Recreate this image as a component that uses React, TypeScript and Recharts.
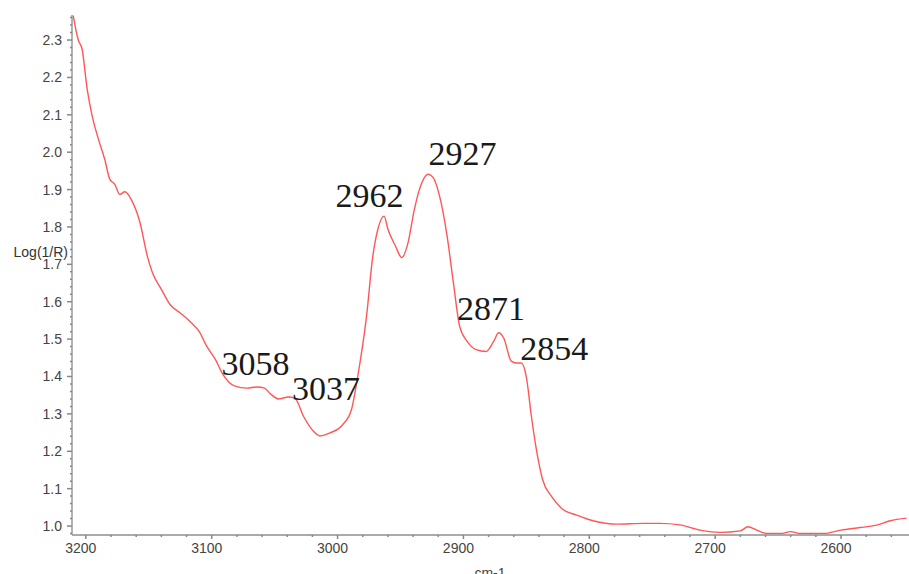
import { LineChart, Line, XAxis, YAxis, ReferenceDot } from "recharts";

// spectrum, wavenumber (cm-1) descending
const WAVENUMBERS = [
  3210, 3206, 3203, 3199, 3195, 3190, 3185, 3181, 3177, 3173, 3169, 3164, 3157, 3151, 3147, 3140,
  3133, 3125, 3116, 3110, 3104, 3097, 3091, 3082, 3072, 3064, 3058, 3054, 3047, 3039, 3034, 3027,
  3019, 3014, 3006, 2996, 2989, 2984, 2977, 2972, 2968, 2963, 2960, 2954, 2949, 2944, 2939, 2933,
  2928, 2924, 2919, 2913, 2908, 2903, 2897, 2890, 2882, 2876, 2872, 2868, 2862, 2858, 2854, 2850,
  2846, 2842, 2837, 2830, 2822, 2810, 2797, 2778, 2757, 2744, 2728, 2712, 2696, 2680, 2674, 2667,
  2659, 2648, 2640, 2632, 2614, 2600, 2585, 2571, 2561, 2548,
];

const LOG_1_R = [
  2.365, 2.3, 2.276, 2.17, 2.097, 2.035, 1.981, 1.928, 1.914, 1.887, 1.894, 1.874, 1.812, 1.72, 1.677, 1.633,
  1.592, 1.57, 1.543, 1.521, 1.481, 1.445, 1.405, 1.375, 1.369, 1.372, 1.369, 1.356, 1.34, 1.345, 1.342, 1.293,
  1.253, 1.241, 1.249, 1.271, 1.311, 1.4, 1.561, 1.722, 1.794, 1.829, 1.794, 1.749, 1.718, 1.758, 1.847, 1.919,
  1.941, 1.932, 1.883, 1.776, 1.651, 1.534, 1.494, 1.472, 1.467, 1.494, 1.517, 1.503, 1.441, 1.436, 1.436, 1.398,
  1.293, 1.204, 1.123, 1.079, 1.047, 1.029, 1.014, 1.005, 1.007, 1.007, 1.003, 0.989, 0.983, 0.987, 0.998, 0.989,
  0.98, 0.98, 0.985, 0.98, 0.98, 0.989, 0.996, 1.003, 1.014, 1.021,
];

const PEAK_LABELS = ["3058", "3037", "2962", "2927", "2871", "2854"];
const PEAK_WAVENUMBERS = [3058, 3037, 2962, 2927, 2871, 2854];
const PEAK_VALUES = [1.369, 1.345, 1.829, 1.941, 1.517, 1.436];

const X_MAJOR_TICKS = [3200, 3100, 3000, 2900, 2800, 2700, 2600];
const Y_MAJOR_TICKS = [1.0, 1.1, 1.2, 1.3, 1.4, 1.5, 1.6, 1.7, 1.8, 1.9, 2.0, 2.1, 2.2, 2.3];

// minor ticks: every 20 cm-1 and every 0.02 units
const X_TICKS: number[] = [];
for (let w = 2560; w <= 3200; w += 20) X_TICKS.push(w);
const Y_TICKS: number[] = [];
for (let i = 49; i <= 118; i++) Y_TICKS.push(Math.round(i * 2) / 100);

const data = WAVENUMBERS.map((w, i) => ({ wn: w, value: LOG_1_R[i] }));

// where each peak number sits relative to its peak
const LABEL_OFFSET: Record<string, [number, number]> = {
  "3058": [-43, -13],
  "3037": [1, 3],
  "2962": [-50, -9],
  "2927": [-1, -9],
  "2871": [-43, -13],
  "2854": [-1, -3],
};

const AXIS_FONT = "'Liberation Sans', Arial, sans-serif";

const XTick = (props: any) => {
  const { x, y, payload } = props;
  const major = payload.value % 100 === 0;
  return (
    <g>
      <line x1={x} x2={x} y1={y} y2={y + (major ? 4 : 2)} stroke="#888" strokeWidth={1.5} />
      {major && (
        <text x={x - 5} y={y + 18} textAnchor="middle" fontFamily={AXIS_FONT} fontSize={14} fill="#444">
          {payload.value}
        </text>
      )}
    </g>
  );
};

const YTick = (props: any) => {
  const { x, y, payload } = props;
  const major = Math.abs(payload.value * 10 - Math.round(payload.value * 10)) < 1e-6;
  return (
    <g>
      <line x1={x - (major ? 5 : 2)} x2={x} y1={y} y2={y} stroke="#888" strokeWidth={1.5} />
      {major && (
        <text x={x - 10} y={y + 5} textAnchor="end" fontFamily={AXIS_FONT} fontSize={14} fill="#444">
          {payload.value.toFixed(1)}
        </text>
      )}
    </g>
  );
};

export default function App() {
  return (
    <div style={{ position: "absolute", left: 0, top: 0, width: 909, height: 574, background: "#fff" }}>
      <LineChart width={909} height={574} data={data} margin={{ top: 15, right: 0, bottom: 0, left: 0 }}>
        <XAxis
          dataKey="wn"
          type="number"
          domain={[2546, 3211]}
          reversed
          ticks={X_TICKS}
          interval={0}
          tick={<XTick />}
          tickLine={false}
          tickSize={0}
          tickMargin={0}
          height={39}
          axisLine={{ stroke: "#aaa", strokeWidth: 2 }}
        />
        <YAxis
          type="number"
          domain={[0.976, 2.367]}
          ticks={Y_TICKS}
          interval={0}
          tick={<YTick />}
          tickLine={false}
          tickSize={0}
          tickMargin={0}
          width={72}
          axisLine={{ stroke: "#999", strokeWidth: 1.5 }}
        />
        <Line
          type="monotone"
          dataKey="value"
          stroke="#ff5757"
          strokeWidth={1.4}
          dot={false}
          isAnimationActive={false}
        />
        {PEAK_LABELS.map((label, i) => (
          <ReferenceDot
            key={label}
            x={PEAK_WAVENUMBERS[i]}
            y={PEAK_VALUES[i]}
            r={1}
            isFront
            shape={(p: any) => (
              <text
                x={p.cx + LABEL_OFFSET[label][0]}
                y={p.cy + LABEL_OFFSET[label][1]}
                fontFamily="'Liberation Serif', 'Times New Roman', serif"
                fontSize={34}
                fill="#1a1a1a"
              >
                {label}
              </text>
            )}
          />
        ))}
        <text x={68} y={257} textAnchor="end" fontFamily={AXIS_FONT} fontSize={14} fill="#333">
          Log(1/R)
        </text>
        <text x={490} y={578} textAnchor="middle" fontFamily={AXIS_FONT} fontSize={14} fill="#444">
          cm-1
        </text>
      </LineChart>
    </div>
  );
}
